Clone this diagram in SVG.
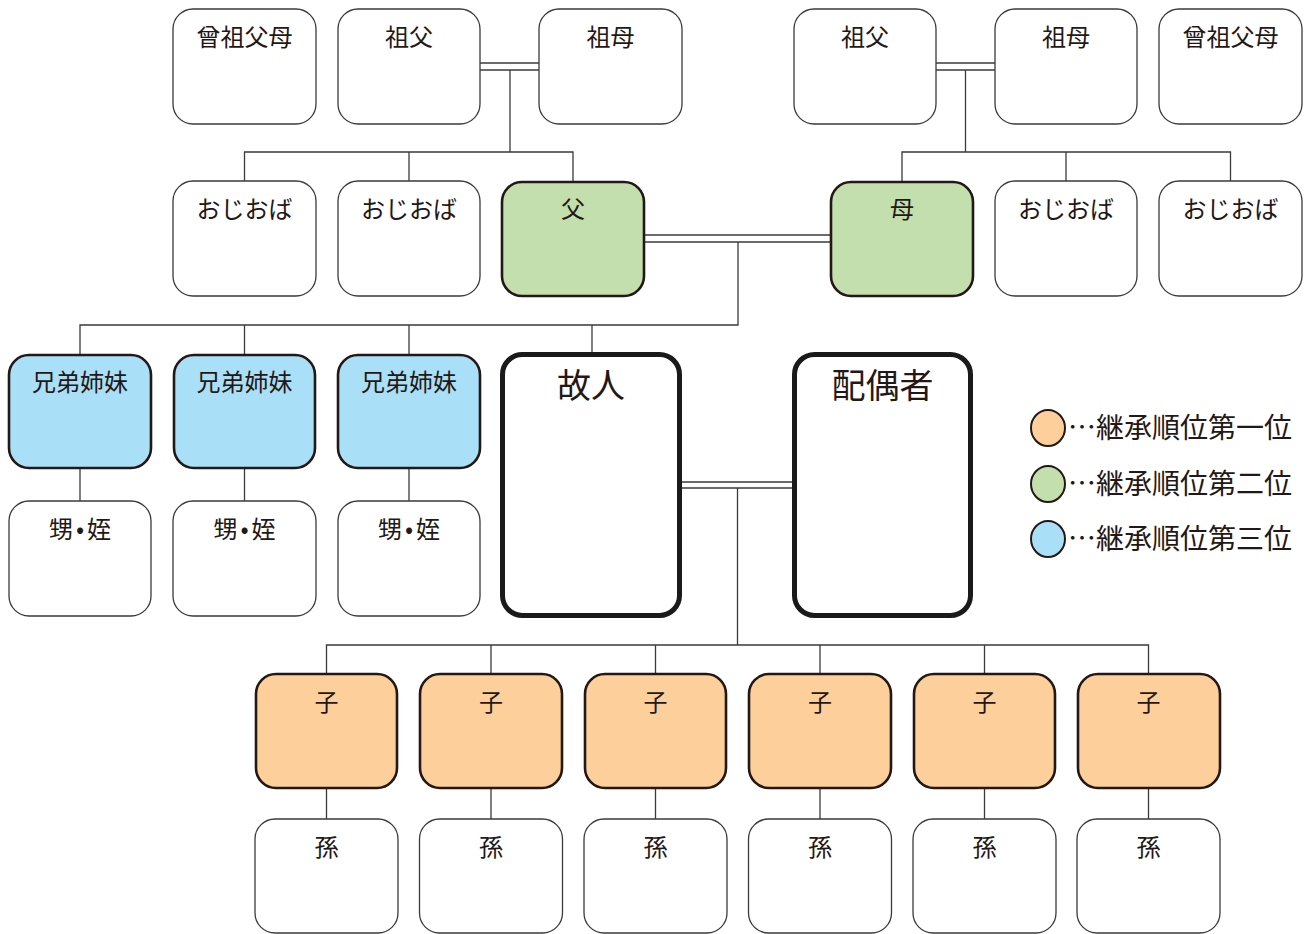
<svg xmlns="http://www.w3.org/2000/svg" width="1309" height="934" viewBox="0 0 1309 934">
<style>
.w{fill:#fff;stroke:#3a3a3a;stroke-width:1.3}
.g{fill:#c3dfae;stroke:#231815;stroke-width:2.6}
.b{fill:#aadff8;stroke:#231815;stroke-width:2.6}
.o{fill:#fdd09b;stroke:#231815;stroke-width:2.6}
.k{fill:#fff;stroke:#1a1a1a;stroke-width:5}
.t{font-family:"Noto Sans CJK JP","Noto Sans",sans-serif;font-size:24px;fill:#231815;text-anchor:middle}
.tn{letter-spacing:3px}
.tl{font-family:"Noto Sans CJK JP","Noto Sans",sans-serif;font-size:34px;fill:#231815;text-anchor:middle}
.lg{font-family:"Noto Sans CJK JP","Noto Sans",sans-serif;font-size:28px;fill:#231815}
#connectors line,#connectors polyline{stroke:#3a3a3a;stroke-width:1.3;fill:none}
</style>
<rect width="1309" height="934" fill="#fff"/>
<g id="connectors">
<line x1="480" y1="63" x2="539" y2="63"/><line x1="480" y1="70" x2="539" y2="70"/>
<line x1="510" y1="70" x2="510" y2="152"/>
<polyline points="244.5,181 244.5,152 573,152 573,181"/>
<line x1="409" y1="152" x2="409" y2="181"/>
<line x1="936" y1="63" x2="995" y2="63"/><line x1="936" y1="70" x2="995" y2="70"/>
<line x1="965.5" y1="70" x2="965.5" y2="152"/>
<polyline points="902,181 902,152 1230.5,152 1230.5,181"/>
<line x1="1066" y1="152" x2="1066" y2="181"/>
<line x1="645" y1="235" x2="830" y2="235"/><line x1="645" y1="242" x2="830" y2="242"/>
<polyline points="738,242 738,325 80,325 80,354"/>
<line x1="244.5" y1="325" x2="244.5" y2="354"/>
<line x1="409" y1="325" x2="409" y2="354"/>
<line x1="592" y1="325" x2="592" y2="352"/>
<line x1="80" y1="468" x2="80" y2="501"/>
<line x1="244.5" y1="468" x2="244.5" y2="501"/>
<line x1="409" y1="468" x2="409" y2="501"/>
<line x1="682" y1="482" x2="792" y2="482"/><line x1="682" y1="488" x2="792" y2="488"/>
<line x1="737.5" y1="488" x2="737.5" y2="645"/>
<polyline points="326.5,673 326.5,645 1148.5,645 1148.5,673"/>
<line x1="491" y1="645" x2="491" y2="673"/>
<line x1="655.5" y1="645" x2="655.5" y2="673"/>
<line x1="820" y1="645" x2="820" y2="673"/>
<line x1="984.5" y1="645" x2="984.5" y2="673"/>
<line x1="326.5" y1="788" x2="326.5" y2="819"/>
<line x1="491" y1="788" x2="491" y2="819"/>
<line x1="655.5" y1="788" x2="655.5" y2="819"/>
<line x1="820" y1="788" x2="820" y2="819"/>
<line x1="984.5" y1="788" x2="984.5" y2="819"/>
<line x1="1148.5" y1="788" x2="1148.5" y2="819"/>
</g>
<g id="n-sosofubo-l"><rect class="w" x="173" y="9" width="143" height="115" rx="20"/><text class="t" x="244.5" y="46">曾祖父母</text></g>
<g id="n-sofu-l"><rect class="w" x="338" y="9" width="142" height="115" rx="20"/><text class="t" x="409" y="46">祖父</text></g>
<g id="n-sobo-l"><rect class="w" x="539" y="9" width="143" height="115" rx="20"/><text class="t" x="610.5" y="46">祖母</text></g>
<g id="n-sofu-r"><rect class="w" x="794" y="9" width="142" height="115" rx="20"/><text class="t" x="865" y="46">祖父</text></g>
<g id="n-sobo-r"><rect class="w" x="995" y="9" width="142" height="115" rx="20"/><text class="t" x="1066" y="46">祖母</text></g>
<g id="n-sosofubo-r"><rect class="w" x="1159" y="9" width="143" height="115" rx="20"/><text class="t" x="1230.5" y="46">曾祖父母</text></g>
<g id="n-oji-l1"><rect class="w" x="173" y="181" width="143" height="115" rx="20"/><text class="t" x="244.5" y="218">おじおば</text></g>
<g id="n-oji-l2"><rect class="w" x="338" y="181" width="142" height="115" rx="20"/><text class="t" x="409" y="218">おじおば</text></g>
<g id="n-chichi"><rect class="g" x="502" y="182" width="142" height="114" rx="20"/><text class="t" x="573" y="218">父</text></g>
<g id="n-haha"><rect class="g" x="831" y="182" width="142" height="114" rx="20"/><text class="t" x="902" y="218">母</text></g>
<g id="n-oji-r1"><rect class="w" x="995" y="181" width="142" height="115" rx="20"/><text class="t" x="1066" y="218">おじおば</text></g>
<g id="n-oji-r2"><rect class="w" x="1159" y="181" width="143" height="115" rx="20"/><text class="t" x="1230.5" y="218">おじおば</text></g>
<g id="n-kyodai1"><rect class="b" x="9" y="355" width="142" height="113" rx="20"/><text class="t" x="80" y="391">兄弟姉妹</text></g>
<g id="n-kyodai2"><rect class="b" x="174" y="355" width="141" height="113" rx="20"/><text class="t" x="244.5" y="391">兄弟姉妹</text></g>
<g id="n-kyodai3"><rect class="b" x="338" y="355" width="142" height="113" rx="20"/><text class="t" x="409" y="391">兄弟姉妹</text></g>
<g id="n-oimei1"><rect class="w" x="9" y="501" width="142" height="115" rx="20"/><text class="t tn" x="81.5" y="538">甥•姪</text></g>
<g id="n-oimei2"><rect class="w" x="173" y="501" width="143" height="115" rx="20"/><text class="t tn" x="246" y="538">甥•姪</text></g>
<g id="n-oimei3"><rect class="w" x="338" y="501" width="142" height="115" rx="20"/><text class="t tn" x="410.5" y="538">甥•姪</text></g>
<g id="n-kojin"><rect class="k" x="502.5" y="354.5" width="177" height="261" rx="20"/><text class="tl" x="591" y="398">故人</text></g>
<g id="n-haigusha"><rect class="k" x="794.5" y="354.5" width="176" height="261" rx="20"/><text class="tl" x="882.5" y="398">配偶者</text></g>
<g id="n-ko1"><rect class="o" x="256" y="674" width="141" height="114" rx="20"/><text class="t" x="326.5" y="711">子</text></g>
<g id="n-ko2"><rect class="o" x="420" y="674" width="142" height="114" rx="20"/><text class="t" x="491" y="711">子</text></g>
<g id="n-ko3"><rect class="o" x="585" y="674" width="141" height="114" rx="20"/><text class="t" x="655.5" y="711">子</text></g>
<g id="n-ko4"><rect class="o" x="749" y="674" width="142" height="114" rx="20"/><text class="t" x="820" y="711">子</text></g>
<g id="n-ko5"><rect class="o" x="914" y="674" width="141" height="114" rx="20"/><text class="t" x="984.5" y="711">子</text></g>
<g id="n-ko6"><rect class="o" x="1078" y="674" width="142" height="114" rx="20"/><text class="t" x="1148.5" y="711">子</text></g>
<g id="n-mago1"><rect class="w" x="255" y="819" width="143" height="114" rx="20"/><text class="t" x="326.5" y="856">孫</text></g>
<g id="n-mago2"><rect class="w" x="419.5" y="819" width="143" height="114" rx="20"/><text class="t" x="491" y="856">孫</text></g>
<g id="n-mago3"><rect class="w" x="584" y="819" width="143" height="114" rx="20"/><text class="t" x="655.5" y="856">孫</text></g>
<g id="n-mago4"><rect class="w" x="748.5" y="819" width="143" height="114" rx="20"/><text class="t" x="820" y="856">孫</text></g>
<g id="n-mago5"><rect class="w" x="913" y="819" width="143" height="114" rx="20"/><text class="t" x="984.5" y="856">孫</text></g>
<g id="n-mago6"><rect class="w" x="1077" y="819" width="143" height="114" rx="20"/><text class="t" x="1148.5" y="856">孫</text></g>
<g id="legend">
<ellipse cx="1048" cy="428" rx="17" ry="18" fill="#fdd09b" stroke="#231815" stroke-width="2"/>
<text class="lg" x="1068" y="438">…継承順位第一位</text>
<ellipse cx="1048" cy="484" rx="17" ry="18" fill="#c3dfae" stroke="#231815" stroke-width="2"/>
<text class="lg" x="1068" y="494">…継承順位第二位</text>
<ellipse cx="1048" cy="539" rx="17" ry="18" fill="#aadff8" stroke="#231815" stroke-width="2"/>
<text class="lg" x="1068" y="549">…継承順位第三位</text>
</g>
</svg>
